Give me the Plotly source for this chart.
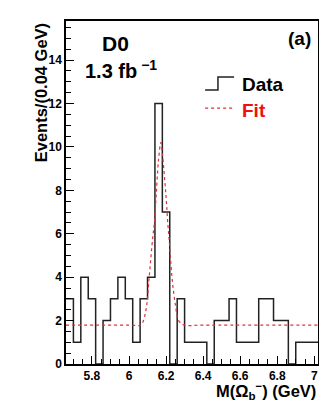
import plotly.graph_objects as go

# histogram: 34 bins of 0.04 GeV starting at 5.66 GeV
bin_start = 5.66
bin_width = 0.04
counts = [3, 1, 4, 3, 0, 2, 3, 4, 3, 1, 3, 4, 12, 7, 0, 3, 1,
          1, 1, 0, 2, 2, 3, 1, 1, 1, 3, 3, 2, 2, 0, 1, 1, 1]

# fit curve
fit_x = [5.66, 6.00, 6.065, 6.078, 6.096, 6.109, 6.128, 6.137, 6.147, 6.159,
         6.172, 6.181, 6.199, 6.210, 6.217, 6.232, 6.250, 6.268, 6.295, 6.40, 7.02]
fit_y = [1.79, 1.79, 1.80, 2.0, 2.74, 4.0, 5.82, 6.5, 7.82, 9.36,
         10.2, 9.6, 7.82, 6.4, 5.7, 4.0, 2.74, 2.0, 1.80, 1.79, 1.79]

x_ticks = [5.8, 6.0, 6.2, 6.4, 6.6, 6.8, 7.0]
x_ticktext = ["5.8", "6", "6.2", "6.4", "6.6", "6.8", "7"]
y_ticks = [0, 2, 4, 6, 8, 10, 12, 14]

edges = [bin_start + i * bin_width for i in range(len(counts) + 1)]
hist_y = counts + [counts[-1]]

FONT = "Liberation Sans, Arial, sans-serif"

fig = go.Figure()
fig.add_trace(go.Scatter(x=edges, y=hist_y, mode="lines", line_shape="hv",
                         line=dict(color="#222", width=1.5), showlegend=False))
fig.add_trace(go.Scatter(x=fit_x, y=fit_y, mode="lines", line_shape="spline",
                         line=dict(color="#e0303a", width=1.2, dash="dot"),
                         showlegend=False))

axis_common = dict(showline=True, linecolor="black", linewidth=1.5, mirror=True,
                   ticks="inside", tickcolor="black", ticklen=8, tickwidth=1,
                   showgrid=False, zeroline=False,
                   tickfont=dict(family=FONT, size=12, color="black", weight="bold"))

fig.update_xaxes(range=[edges[0], edges[-1]], tickvals=x_ticks, ticktext=x_ticktext,
                 minor=dict(dtick=0.05, tick0=5.8, ticks="inside", ticklen=5,
                            tickcolor="black"),
                 **axis_common)
fig.update_yaxes(range=[0, 15.8], tickvals=y_ticks,
                 minor=dict(dtick=0.5, ticks="inside", ticklen=5, tickcolor="black"),
                 **axis_common)

# hand drawn legend
fig.add_shape(type="path", xref="paper", yref="paper",
              path="M 0.552 0.799 L 0.603 0.799 L 0.603 0.837 L 0.667 0.837",
              line=dict(color="#222", width=1.5))
fig.add_shape(type="line", xref="paper", yref="paper", x0=0.552, x1=0.667,
              y0=0.746, y1=0.746, line=dict(color="#e0303a", width=1.2, dash="dot"))

def label(text, x, y, size, color="black", xanchor="center", **kw):
    fig.add_annotation(text=text, x=x, y=y, xref="paper", yref="paper",
                       xanchor=xanchor, yanchor="middle", showarrow=False,
                       font=dict(family=FONT, size=size, color=color, weight="bold"), **kw)

label("Data", 0.69, 0.815, 19, xanchor="left")
label("Fit", 0.69, 0.740, 19, color="#ee1111", xanchor="left")
label("D0", 0.198, 0.935, 21)
label("1.3 fb<sup> −1</sup>", 0.22, 0.86, 20)
label("(a)", 0.925, 0.95, 19)
label("M(Ω<sub>b</sub><sup>−</sup>) (GeV)", 1.0, -0.08, 16.5, xanchor="right")
fig.add_annotation(text="Events/(0.04 GeV)", x=-0.10, y=1.0, xref="paper", yref="paper",
                   xanchor="center", yanchor="top", textangle=-90, showarrow=False,
                   font=dict(family=FONT, size=16.5, color="black", weight="bold"))

fig.update_layout(width=327, height=401, plot_bgcolor="white", paper_bgcolor="white",
                  margin=dict(l=58, r=17, t=13, b=45))
fig.write_html("out.html")
